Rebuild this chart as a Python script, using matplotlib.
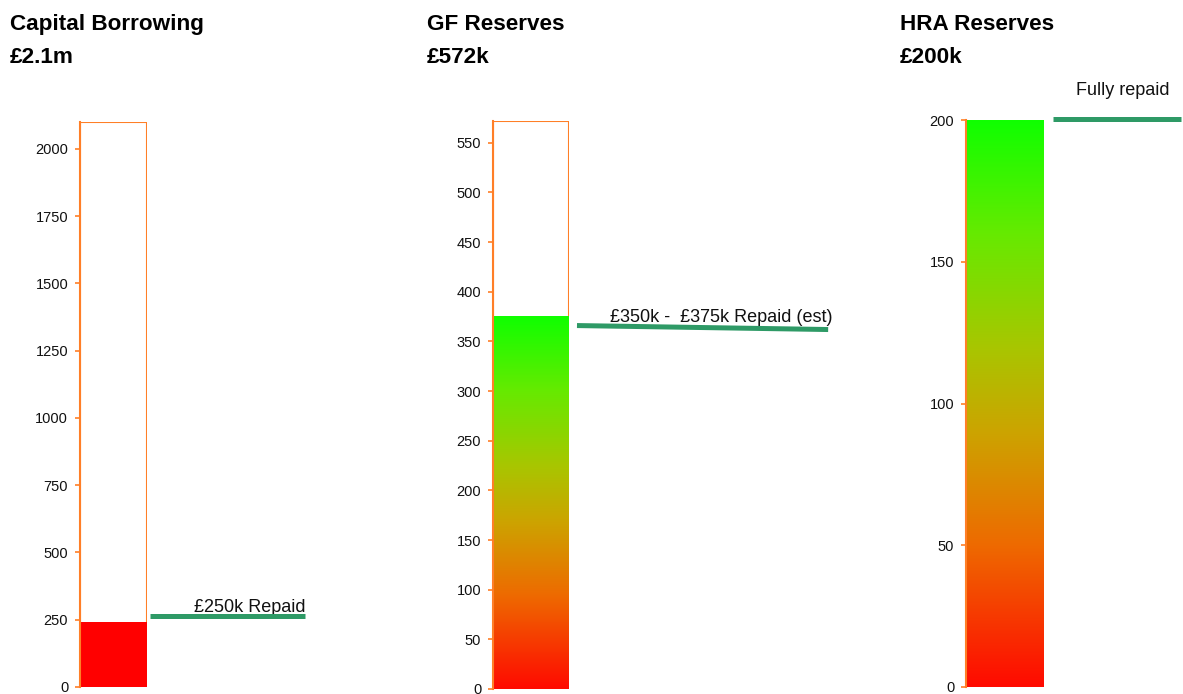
import matplotlib
matplotlib.use("Agg")
import matplotlib.pyplot as plt
import matplotlib.transforms as mtransforms
from matplotlib.colors import LinearSegmentedColormap
from matplotlib.patches import Rectangle
import numpy as np

plt.rcParams["font.family"] = ["Liberation Sans", "DejaVu Sans"]

# ===== データ =====
titles = ["Capital Borrowing", "GF Reserves", "HRA Reserves"]
subtitles = ["£2.1m", "£572k", "£200k"]
totals = [2100, 572, 200]
repaid = [240, 375, 200]
marker_start = [264, 366, 200.5]
marker_end = [264, 362, 200.5]
marker_labels = ["£250k Repaid", "£350k -  £375k Repaid (est)", "Fully repaid"]
tick_steps = [250, 50, 50]
tick_max = [2000, 550, 200]

# ===== レイアウト（ピクセル） =====
W, H = 1183, 694
axes_px = [(80, 147, 687, 122), (493, 569, 689, 121), (966, 1043, 687, 120)]
title_x = [10, 427, 900]
line_x = [(1.045, 3.36), (1.105, 4.41), (1.13, 2.79)]

ORANGE = "#FF7F27"
GREEN = "#2E9A66"

grad = LinearSegmentedColormap.from_list(
    "rg", [(0.0, "#FF0A00"), (0.25, "#EE6A00"), (0.45, "#CCA400"),
           (0.6, "#A8C600"), (0.8, "#66EA00"), (1.0, "#10FF00")])
solid_red = LinearSegmentedColormap.from_list("r", ["#FF0000", "#FF0000"])
cmaps = [solid_red, grad, grad]

fig = plt.figure(figsize=(W / 100, H / 100), dpi=100)

for i in range(3):
    l, r, b, t = axes_px[i]
    ax = fig.add_axes([l / W, 1 - b / H, (r - l) / W, (b - t) / H])

    # 外枠
    ax.add_patch(Rectangle((0, 0), 1, totals[i], fill=False,
                           edgecolor=ORANGE, lw=1.5, zorder=1))
    # グラデーション塗り
    img = np.linspace(0, 1, 256).reshape(-1, 1)
    ax.imshow(img, cmap=cmaps[i], origin="lower", aspect="auto",
              extent=[0, 1, 0, repaid[i]], zorder=2, interpolation="bilinear")
    ax.set_xlim(0, 1)
    ax.set_ylim(0, totals[i])

    for s in ("top", "right", "bottom"):
        ax.spines[s].set_visible(False)
    ax.spines["left"].set_color(ORANGE)
    ax.spines["left"].set_linewidth(1.5)
    ax.spines["left"].set_zorder(3)
    ax.set_xticks([])
    ax.set_yticks(np.arange(0, tick_max[i] + 1, tick_steps[i]))
    ax.tick_params(axis="y", colors=ORANGE, labelcolor="#111111",
                   length=3.5, width=1.2, pad=5, labelsize=10.5)

    # 目標ライン
    tr = mtransforms.blended_transform_factory(ax.transAxes, ax.transData)
    x0, x1 = line_x[i]
    ax.plot([x0, x1], [marker_start[i], marker_end[i]], color=GREEN, lw=3.6,
            transform=tr, clip_on=False, solid_capstyle="butt", zorder=4)

    if i == 0:
        ax.text(x1, marker_start[i], marker_labels[i], transform=tr,
                ha="right", va="bottom", fontsize=13, color="#111111")
    elif i == 1:
        ax.text(x1 + 0.06, marker_start[i], marker_labels[i], transform=tr,
                ha="right", va="bottom", fontsize=13, color="#111111")
    else:
        ax.text((x0 + x1) / 2 + 0.08, marker_start[i] + 7, marker_labels[i],
                transform=tr, ha="center", va="bottom", fontsize=13,
                color="#111111")

    # タイトル
    fig.text(title_x[i] / W, 1 - 30 / H, titles[i], fontsize=16.2,
             fontweight="bold", ha="left", va="baseline")
    fig.text(title_x[i] / W, 1 - 63 / H, subtitles[i], fontsize=16.2,
             fontweight="bold", ha="left", va="baseline")

fig.savefig("out.png", dpi=100)
